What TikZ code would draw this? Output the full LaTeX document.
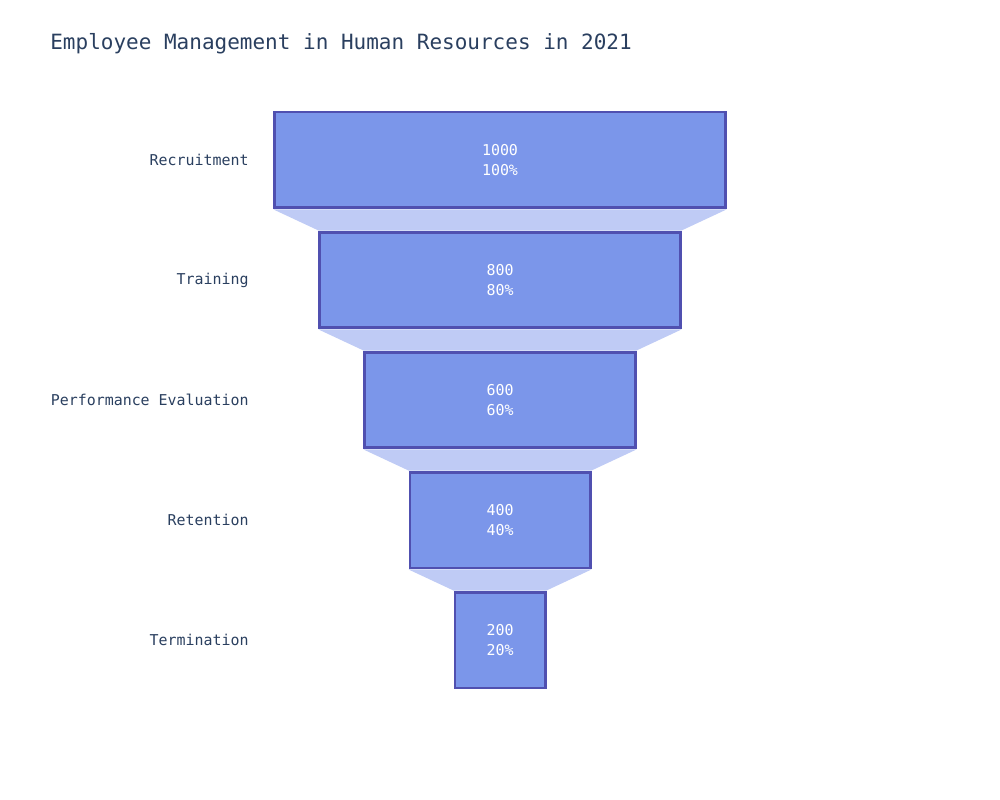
\documentclass[tikz,border=0pt]{standalone}
\usepackage{fontspec}
\setmainfont{DejaVu Sans Mono}
\usepackage{xcolor}
\usepackage{tikz}
\usetikzlibrary{positioning, backgrounds}

\definecolor{barfill}{RGB}{123,150,234}
\definecolor{barline}{RGB}{80,80,176}
\definecolor{linkfill}{RGB}{191,203,245}
\definecolor{labeltext}{RGB}{42,63,95}

\begin{document}
\begin{tikzpicture}[x=0.02cm, y=-0.02cm,
    stage/.style={draw=barline, line width=1.7pt, fill=barfill, text=white,
      align=center, inner sep=0pt, minimum height=1.92cm,
      font=\fontsize{8.5}{11.3}\selectfont},
    link/.style={fill=linkfill},
    stage label/.style={anchor=east, inner sep=0pt, text=labeltext, font=\fontsize{8.5}{10}\selectfont}]

        \useasboundingbox (0,0) rectangle (1000,800);

        \node [anchor=west, inner sep=0pt, text=labeltext, font=\fontsize{11.95}{14}\selectfont] (title) at (50,44)
          {Employee Management in Human Resources in 2021};

        \foreach \name/\val/\pct [count=\i] in {Recruitment/1000/100, Training/800/80,
            Performance Evaluation/600/60, Retention/400/40, Termination/200/20}
          {
            \node [stage, minimum width=\val*0.009cm] (stage-\i) at (500,40+120*\i) {\val\\\pct\%};
            \node [stage label] (label-\i) at (249,40+120*\i) {\name};
          }

        \begin{scope}[on background layer]
          \foreach \i [evaluate=\i as \j using int(\i+1)] in {1,...,4}
            \fill [link] (stage-\i.south west) -- (stage-\i.south east)
              -- (stage-\j.north east) -- (stage-\j.north west) -- cycle;
        \end{scope}

\end{tikzpicture}
\end{document}
